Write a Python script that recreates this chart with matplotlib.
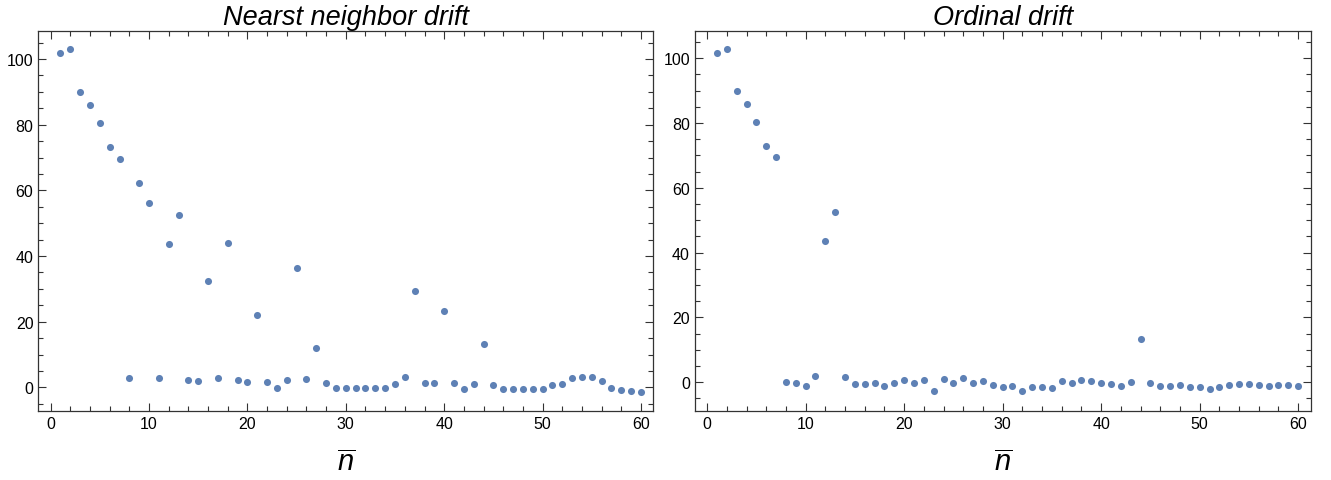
import numpy as np
import matplotlib
matplotlib.use("Agg")
import matplotlib.pyplot as plt
from matplotlib.ticker import MultipleLocator

plt.rcParams['font.family'] = ['Liberation Sans', 'DejaVu Sans']
plt.rcParams['mathtext.fontset'] = 'custom'
plt.rcParams['mathtext.it'] = 'Liberation Sans:italic'
plt.rcParams['mathtext.rm'] = 'Liberation Sans'

n = np.arange(1, 61)

nearest_drift = [101.7, 102.9, 90.1, 86.0, 80.5, 73.1, 69.6, 3.0, 62.1, 56.0,
                 2.8, 43.7, 52.5, 2.4, 2.0, 32.4, 2.9, 44.0, 2.3, 1.8,
                 22.1, 1.6, -0.2, 2.2, 36.3, 2.5, 12.1, 1.2, -0.2, -0.2,
                 -0.2, -0.2, -0.2, -0.2, 0.9, 3.1, 29.4, 1.4, 1.2, 23.3,
                 1.2, -0.4, 0.9, 13.3, 0.8, -0.4, -0.4, -0.4, -0.4, -0.4,
                 0.8, 0.9, 3.0, 3.3, 3.3, 2.0, -0.1, -0.7, -1.0, -1.3]

ordinal_drift = [101.5, 102.8, 90.0, 85.8, 80.3, 72.9, 69.5, 0.0, -0.2, -1.3,
                 2.0, 43.6, 52.5, 1.5, -0.6, -0.7, -0.2, -1.3, -0.2, 0.6,
                 -0.3, 0.8, -2.8, 0.9, -0.2, 1.2, -0.3, 0.4, -1.0, -1.5,
                 -1.3, -2.8, -1.6, -1.6, -1.8, 0.3, -0.3, 0.6, 0.5, -0.3,
                 -0.6, -1.2, 0.1, 13.4, -0.2, -1.2, -1.2, -1.0, -1.5, -1.5,
                 -2.0, -1.6, -0.9, -0.7, -0.7, -0.9, -1.1, -1.0, -1.0, -1.1]

titles = ["Nearst neighbor drift", "Ordinal drift"]
ylims = [(-7.1, 108.6), (-8.8, 108.5)]

fig = plt.figure(figsize=(13.31, 4.81), dpi=100)
ax1 = fig.add_axes([0.0288, 0.144, 0.462, 0.790])
ax2 = fig.add_axes([0.522, 0.144, 0.4626, 0.790])

for ax, data, title, yl in zip([ax1, ax2], [nearest_drift, ordinal_drift], titles, ylims):
    ax.scatter(n, data, s=26, color='#5E81B5', linewidths=0, zorder=3)
    ax.set_xlim(-1.25, 61.25)
    ax.set_ylim(*yl)
    ax.set_title(title, fontsize=19.5, style='italic', pad=5)
    ax.set_xlabel(r'$\overline{n}$', fontsize=21, labelpad=13)
    ax.xaxis.set_major_locator(MultipleLocator(10))
    ax.xaxis.set_minor_locator(MultipleLocator(2))
    ax.yaxis.set_major_locator(MultipleLocator(20))
    ax.yaxis.set_minor_locator(MultipleLocator(5))
    ax.tick_params(which='both', direction='in', top=True, right=True,
                   labelsize=11.5, colors='#333333', labelcolor='black', width=0.8)
    ax.tick_params(which='major', length=6)
    ax.tick_params(which='minor', length=3.5)
    for sp in ax.spines.values():
        sp.set_color('#333333')
        sp.set_linewidth(0.9)

fig.savefig("out.png", dpi=100)
